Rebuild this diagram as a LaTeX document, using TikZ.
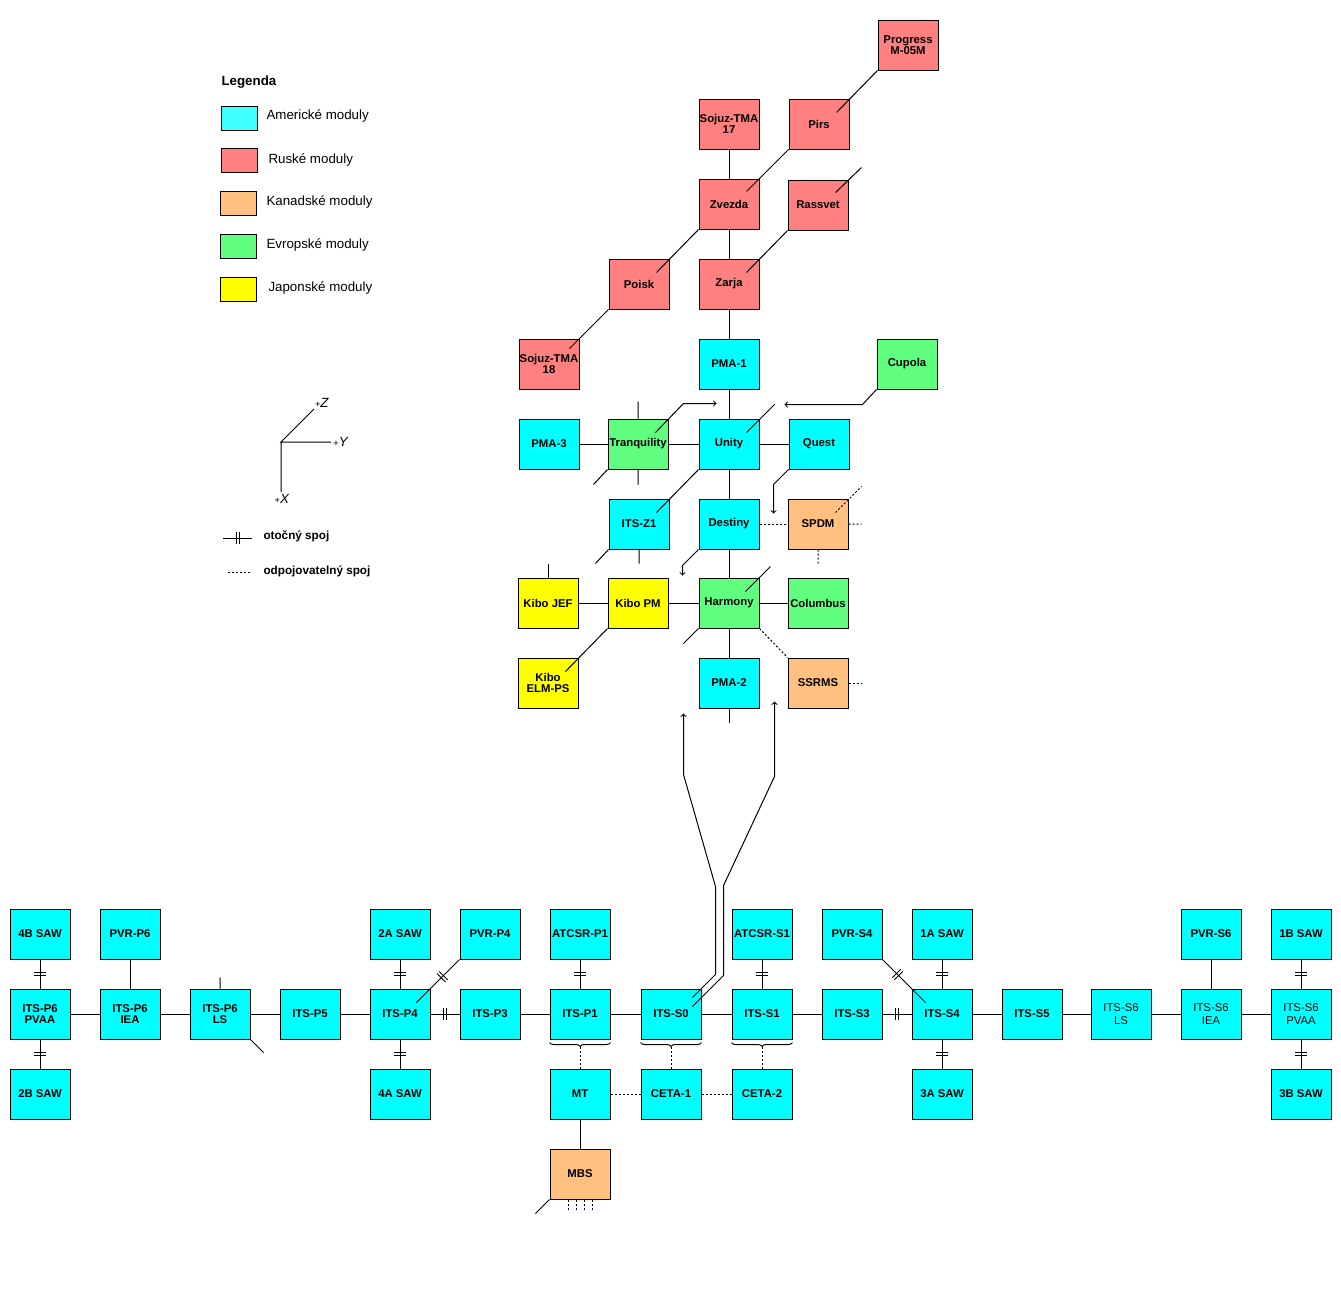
\documentclass[tikz,border=0pt]{standalone}
\usepackage{fontspec}
\setmainfont{Liberation Sans}
\usetikzlibrary{calc,decorations.markings,decorations.pathreplacing}
\definecolor{cAme}{HTML}{00FFFF}
\definecolor{cAmeL}{HTML}{40FFFF}
\definecolor{cRus}{HTML}{FF8080}
\definecolor{cKan}{HTML}{FFC080}
\definecolor{cEvr}{HTML}{60FF80}
\definecolor{cJap}{HTML}{FFFF00}
\begin{document}
\begin{tikzpicture}
                        [x=0.75pt,y=-0.75pt,line width=0.75pt,
                        modul/.style={draw,minimum width=45pt,minimum height=37.5pt,inner sep=0pt,align=center,font=\bfseries\fontsize{8.5}{8.5}\selectfont},
                        ame/.style={modul,fill=cAme},
                        amet/.style={ame,font=\fontsize{8.5}{9.5}\selectfont},
                        rus/.style={modul,fill=cRus},
                        kan/.style={modul,fill=cKan},
                        evr/.style={modul,fill=cEvr},
                        jap/.style={modul,fill=cJap},
                        vzorek/.style={draw,minimum width=27pt,minimum height=18pt,inner sep=0pt},
                        popis/.style={anchor=west,inner sep=0pt,font=\fontsize{10}{12}\selectfont},
                        popisb/.style={anchor=west,inner sep=0pt,font=\bfseries\fontsize{8.8}{10}\selectfont},
                        osa/.style={inner sep=0pt,font=\fontsize{10}{12}\selectfont},
                        otocny/.style={postaction={decorate,decoration={markings,mark=at position #1 with {\draw (-1.5,-6) -- (-1.5,6) (1.5,-6) -- (1.5,6);}}}},
                        otocny/.default=0.5,
                        odpoj/.style={dash pattern=on 1.5pt off 1.5pt},
                        zavorka/.style={decorate,decoration={brace,mirror,amplitude=3pt}}]
                        \fill [white] (0,0) rectangle (1341,1300);
                        \useasboundingbox (0,0) rectangle (1341,1300);
                        %Legenda
                        \node [popis,font=\bfseries\fontsize{10}{12}\selectfont] (Leg) at (221,82) {Legenda};
                        \node [vzorek,fill=cAmeL] (vAme) at (239,118) {};
                        \node [vzorek,fill=cRus] (vRus) at (239,160) {};
                        \node [vzorek,fill=cKan] (vKan) at (238,203) {};
                        \node [vzorek,fill=cEvr] (vEvr) at (238,246) {};
                        \node [vzorek,fill=cJap] (vJap) at (238,289) {};
                        \node [popis] (pAme) at (266,116) {Americké moduly};
                        \node [popis] (pRus) at (268,160) {Ruské moduly};
                        \node [popis] (pKan) at (266,202) {Kanadské moduly};
                        \node [popis] (pEvr) at (266,245) {Evropské moduly};
                        \node [popis] (pJap) at (268,288) {Japonské moduly};
                        %Osy
                        \coordinate (O) at (281,442);
                        \coordinate (osZ) at (314,409);
                        \coordinate (osY) at (331,442);
                        \coordinate (osX) at (281,492);
                        \draw (osZ) -- (O) -- (osY) (O) -- (osX);
                        \node [osa] (lZ) at (322,403) {{\fontsize{7}{7}\selectfont+}\textit{Z}};
                        \node [osa] (lY) at (341,442) {{\fontsize{7}{7}\selectfont+}\textit{Y}};
                        \node [osa] (lX) at (282,499) {{\fontsize{7}{7}\selectfont+}\textit{X}};
                        %Spoje
                        \coordinate (r1) at (223,538);
                        \coordinate (r2) at (252,538);
                        \draw [otocny] (r1) -- (r2);
                        \node [popisb] (pOto) at (263,536) {otočný spoj};
                        \coordinate (d1) at (228,572);
                        \coordinate (d2) at (250,572);
                        \draw [odpoj] (d1) -- (d2);
                        \node [popisb] (pOdp) at (263,571) {odpojovatelný spoj};
                        %Ruske moduly
                        \node [rus] (Prog) at (908,45) {Progress\\M-05M};
                        \node [rus] (Soj17) at (729,124) {Sojuz-TMA\\17};
                        \node [rus] (Pirs) at (819,124) {Pirs};
                        \node [rus] (Zvez) at (729,204) {Zvezda};
                        \node [rus] (Rass) at (818,205) {Rassvet};
                        \node [rus] (Poisk) at (639,284) {Poisk};
                        \node [rus] (Zarja) at (729,284) {Zarja};
                        \node [rus] (Soj18) at (549,364) {Sojuz-TMA\\18};
                        %Americke moduly
                        \node [ame] (PMA1) at (729,364) {PMA-1};
                        \node [ame] (PMA3) at (549,444) {PMA-3};
                        \node [ame] (Unity) at (729,444) {Unity};
                        \node [ame] (Quest) at (819,444) {Quest};
                        \node [ame] (Z1) at (639,524) {ITS-Z1};
                        \node [ame] (Dest) at (729,524) {Destiny};
                        \node [ame] (PMA2) at (729,683) {PMA-2};
                        %Evropske moduly
                        \node [evr] (Cup) at (907,364) {Cupola};
                        \node [evr] (Tranq) at (638,444) {Tranquility};
                        \node [evr] (Harm) at (729,603) {Harmony};
                        \node [evr] (Col) at (818,603) {Columbus};
                        %Kanadske moduly
                        \node [kan] (SPDM) at (818,524) {SPDM};
                        \node [kan] (SSRMS) at (818,683) {SSRMS};
                        %Japonske moduly
                        \node [jap] (JEF) at (548,603) {Kibo JEF};
                        \node [jap] (JPM) at (638,603) {Kibo PM};
                        \node [jap] (ELM) at (548,683) {Kibo\\ELM-PS};
                        %Spoje stanice
                        \draw (Soj17) -- (Zvez) -- (Zarja) -- (PMA1) -- (Unity) -- (Dest) -- (Harm) -- (PMA2);
                        \draw (PMA3) -- (Tranq) -- (Unity) -- (Quest);
                        \draw (JEF) -- (JPM) -- (Harm) -- (Col);
                        \draw (Prog.south west) -- ($(Pirs.north east)+(-13,14)$);
                        \draw (Pirs.south west) -- ($(Zvez.north east)+(-13,13)$);
                        \draw (Zvez.south west) -- ($(Poisk.north east)+(-13,14)$);
                        \draw (Rass.south west) -- ($(Zarja.north east)+(-13,14)$);
                        \draw (Poisk.south west) -- ($(Soj18.north east)+(-10,10)$);
                        \draw (Unity.south west) -- ($(Z1.north east)+(-13,14)$);
                        \draw (JPM.south west) -- ($(ELM.north east)+(-13,14)$);
                        \draw ($(Rass.north east)+(-13,13)$) -- ++(26,-25);
                        \draw ($(Unity.north east)+(-13,14)$) -- ++(28,-28);
                        \draw ($(Harm.north east)+(-14,14)$) -- ++(25,-25);
                        \draw (Tranq.north) -- ++(0,-17) (Tranq.south) -- ++(0,15) (Tranq.south west) -- ++(-14,15);
                        \draw (Z1.south west) -- ++(-13,14) (Z1.south) -- ++(0,14);
                        \draw (JEF.north) -- ++(0,-14);
                        \draw (Harm.south west) -- ++(-15,15);
                        \draw (PMA2.south) -- ++(0,14);
                        \draw [odpoj] (Dest) -- (SPDM);
                        \draw [odpoj] (Harm.south east) -- (SSRMS.north west);
                        \draw [odpoj] ($(SPDM.north east)+(-13,14)$) -- ++(26,-26) (SPDM.east) -- ++(13,0) (SPDM.south) -- ++(0,14);
                        \draw [odpoj] (SSRMS.east) -- ++(13,0);
                        \draw [->] (Cup.south west) -- ++(-14,15) -- ++(-78,0);
                        \draw [->] ($(Tranq.north east)+(-13,14)$) -- ++(28,-29) -- ++(33,0);
                        \draw [->] (Quest.south west) -- ++(-15,15) -- ++(0,29);
                        \draw [->] (Dest.south west) -- ++(-16,16) -- ++(0,10);
                        %Prihradovy nosnik
                        \node [ame] (SAW4B) at (40,934) {4B SAW};
                        \node [ame] (PVRP6) at (130,934) {PVR-P6};
                        \node [ame] (SAW2A) at (400,934) {2A SAW};
                        \node [ame] (PVRP4) at (490,934) {PVR-P4};
                        \node [ame] (ATCP1) at (580,934) {ATCSR-P1};
                        \node [ame] (ATCS1) at (762,934) {ATCSR-S1};
                        \node [ame] (PVRS4) at (852,934) {PVR-S4};
                        \node [ame] (SAW1A) at (942,934) {1A SAW};
                        \node [ame] (PVRS6) at (1211,934) {PVR-S6};
                        \node [ame] (SAW1B) at (1301,934) {1B SAW};
                        \node [ame] (P6PVAA) at (40,1014) {ITS-P6\\PVAA};
                        \node [ame] (P6IEA) at (130,1014) {ITS-P6\\IEA};
                        \node [ame] (P6LS) at (220,1014) {ITS-P6\\LS};
                        \node [ame] (P5) at (310,1014) {ITS-P5};
                        \node [ame] (P4) at (400,1014) {ITS-P4};
                        \node [ame] (P3) at (490,1014) {ITS-P3};
                        \node [ame] (P1) at (580,1014) {ITS-P1};
                        \node [ame] (S0) at (671,1014) {ITS-S0};
                        \node [ame] (S1) at (762,1014) {ITS-S1};
                        \node [ame] (S3) at (852,1014) {ITS-S3};
                        \node [ame] (S4) at (942,1014) {ITS-S4};
                        \node [ame] (S5) at (1032,1014) {ITS-S5};
                        \node [amet] (S6LS) at (1121,1014) {ITS-S6\\LS};
                        \node [amet] (S6IEA) at (1211,1014) {ITS-S6\\IEA};
                        \node [amet] (S6PVAA) at (1301,1014) {ITS-S6\\PVAA};
                        \node [ame] (SAW2B) at (40,1094) {2B SAW};
                        \node [ame] (SAW4A) at (400,1094) {4A SAW};
                        \node [ame] (MT) at (580,1094) {MT};
                        \node [ame] (CETA1) at (671,1094) {CETA-1};
                        \node [ame] (CETA2) at (762,1094) {CETA-2};
                        \node [ame] (SAW3A) at (942,1094) {3A SAW};
                        \node [ame] (SAW3B) at (1301,1094) {3B SAW};
                        \node [kan] (MBS) at (580,1174) {MBS};
                        %Spoje nosniku
                        \draw (P6PVAA) -- (P6IEA) -- (P6LS) -- (P5) -- (P4);
                        \draw [otocny] (P4) -- (P3);
                        \draw (P3) -- (P1) -- (S0) -- (S1) -- (S3);
                        \draw [otocny] (S3) -- (S4);
                        \draw (S4) -- (S5) -- (S6LS) -- (S6IEA) -- (S6PVAA);
                        \draw [otocny] (SAW4B) -- (P6PVAA);
                        \draw [otocny] (P6PVAA) -- (SAW2B);
                        \draw (PVRP6) -- (P6IEA);
                        \draw [otocny] (SAW2A) -- (P4);
                        \draw [otocny] (P4) -- (SAW4A);
                        \draw [otocny] (ATCP1) -- (P1);
                        \draw [otocny] (ATCS1) -- (S1);
                        \draw [otocny] (SAW1A) -- (S4);
                        \draw [otocny] (S4) -- (SAW3A);
                        \draw (PVRS6) -- (S6IEA);
                        \draw [otocny] (SAW1B) -- (S6PVAA);
                        \draw [otocny] (S6PVAA) -- (SAW3B);
                        \draw [otocny=0.4] (PVRP4.south west) -- ($(P4.north east)+(-14,14)$);
                        \draw [otocny=0.35] (PVRS4.south east) -- ($(S4.north west)+(14,14)$);
                        \draw (P6LS.north) -- ++(0,-11) (P6LS.south east) -- ++(13,13);
                        \draw [zavorka] ($(P1.south west)+(0,3)$) -- ($(P1.south east)+(0,3)$);
                        \draw [zavorka] ($(S0.south west)+(0,3)$) -- ($(S0.south east)+(0,3)$);
                        \draw [zavorka] ($(S1.south west)+(0,3)$) -- ($(S1.south east)+(0,3)$);
                        \draw [odpoj] ($(P1.south)+(0,7)$) -- (MT);
                        \draw [odpoj] ($(S0.south)+(0,7)$) -- (CETA1);
                        \draw [odpoj] ($(S1.south)+(0,7)$) -- (CETA2);
                        \draw [odpoj] (MT) -- (CETA1) -- (CETA2);
                        \draw (MT) -- (MBS);
                        \draw (MBS.south west) -- ++(-14,14);
                        \draw [odpoj] ($(MBS.south)+(-12,0)$) -- ++(0,10) ($(MBS.south)+(-4,0)$) -- ++(0,10) ($(MBS.south)+(4,0)$) -- ++(0,10) ($(MBS.south)+(12,0)$) -- ++(0,10);
                        %Sipky k ITS-S0
                        \draw [->] ($(S0.north east)+(-9,9)$) -- ++(23,-23) -- ++(0,-88) -- ++(-32,-112) -- ++(0,-61);
                        \draw [->] ($(S0.north east)+(-9,18)$) -- ++(31,-31) -- ++(0,-90) -- ++(51,-109) -- ++(0,-75);
                \end{tikzpicture}
\end{document}
